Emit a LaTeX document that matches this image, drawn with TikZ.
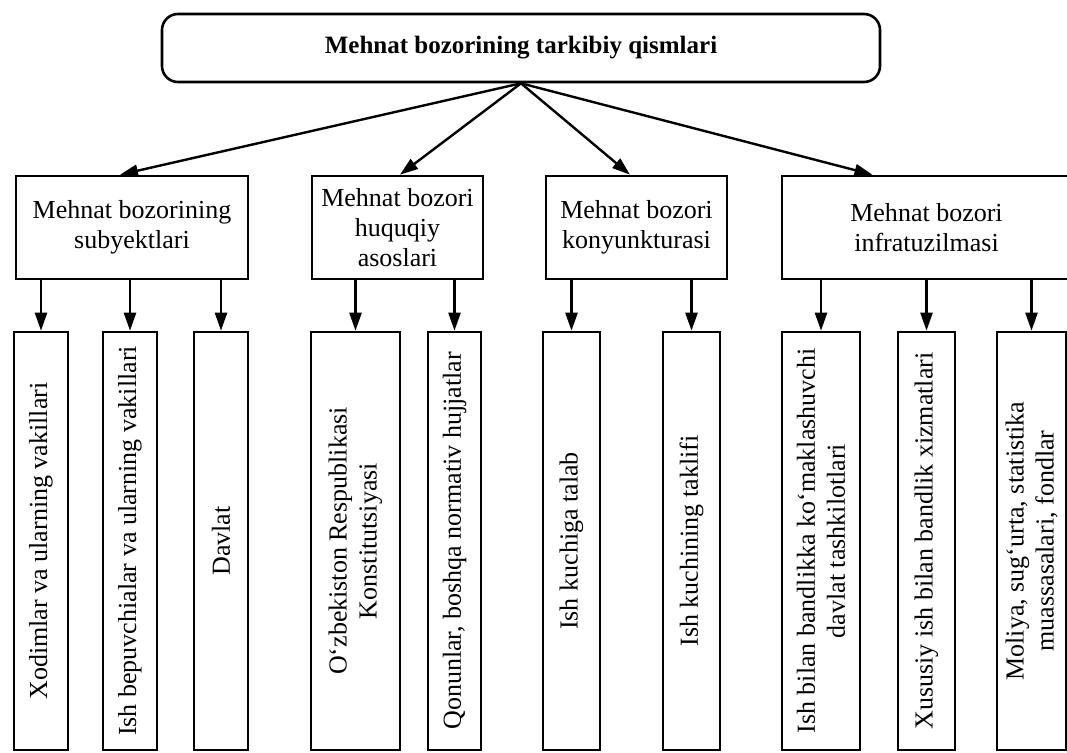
\documentclass[tikz,border=0pt]{standalone}
\usepackage{fontspec}
\setmainfont{Liberation Serif}
\usetikzlibrary{arrows.meta}

\begin{document}
\begin{tikzpicture}[x=1pt,y=-1pt,line width=2.6pt,
	every node/.style={font=\fontsize{26}{30}\selectfont,align=center,inner sep=2pt},
	topbox/.style={draw,rounded corners=16pt,minimum width=718pt,minimum height=68pt,font=\fontsize{25}{30}\selectfont\bfseries},
	midbox/.style={draw,minimum height=103pt},
	leafbox/.style={draw,rotate=90,minimum width=418pt},
	arr/.style={line width=2.4pt,-{Triangle[length=18pt,width=12pt]}}]
			\useasboundingbox (0,0) rectangle (1067,752);
			\node[topbox] (top) at (521,48) {Mehnat bozorining tarkibiy qismlari};
			\node[midbox,minimum width=232pt] (sub) at (132,227.5) {Mehnat bozorining\\subyektlari};
			\node[midbox,minimum width=171pt] (huq) at (397.5,227.5) {Mehnat bozori\\huquqiy\\asoslari};
			\node[midbox,minimum width=181pt] (kon) at (636.5,227.5) {Mehnat bozori\\konyunkturasi};
			\node[midbox,minimum width=289pt] (inf) at (926.5,227.5) {Mehnat bozori\\infratuzilmasi};
			\draw[arr] (top.south) -- ([xshift=-12pt]sub.north);
			\draw[arr] (top.south) -- ([xshift=2.5pt]huq.north);
			\draw[arr] (top.south) -- ([xshift=-6.5pt]kon.north);
			\draw[arr] (top.south) -- ([xshift=-54pt]inf.north);
			\node[leafbox,minimum height=54pt] (xod) at (41,541) {Xodimlar va ularning vakillari};
			\node[leafbox,minimum height=54pt] (ishb) at (130,541) {Ish bepuvchialar va ularning vakillari};
			\node[leafbox,minimum height=54pt] (dav) at (221,541) {Davlat};
			\node[leafbox,minimum height=89pt] (kons) at (355.5,541) {O‘zbekiston Respublikasi\\Konstitutsiyasi};
			\node[leafbox,minimum height=53pt] (qon) at (454.5,541) {Qonunlar, boshqa normativ hujjatlar};
			\node[leafbox,minimum height=57pt] (tal) at (571.5,541) {Ish kuchiga talab};
			\node[leafbox,minimum height=57pt] (tak) at (691.5,541) {Ish kuchining taklifi};
			\node[leafbox,minimum height=78pt] (dtash) at (821,541) {Ish bilan bandlikka ko‘maklashuvchi\\davlat tashkilotlari};
			\node[leafbox,minimum height=57pt] (xus) at (926.5,541) {Xususiy ish bilan bandlik xizmatlari};
			\node[leafbox,minimum height=69pt] (mol) at (1031.5,541) {Moliya, sug‘urta, statistika\\muassasalari, fondlar};
			\draw[arr] (xod.east |- sub.south) -- (xod.east);
			\draw[arr] (ishb.east |- sub.south) -- (ishb.east);
			\draw[arr] (dav.east |- sub.south) -- (dav.east);
			\draw[arr] (kons.east |- huq.south) -- (kons.east);
			\draw[arr] (qon.east |- huq.south) -- (qon.east);
			\draw[arr] (tal.east |- kon.south) -- (tal.east);
			\draw[arr] (tak.east |- kon.south) -- (tak.east);
			\draw[arr] (dtash.east |- inf.south) -- (dtash.east);
			\draw[arr] (xus.east |- inf.south) -- (xus.east);
			\draw[arr] (mol.east |- inf.south) -- (mol.east);
		\end{tikzpicture}
\end{document}
